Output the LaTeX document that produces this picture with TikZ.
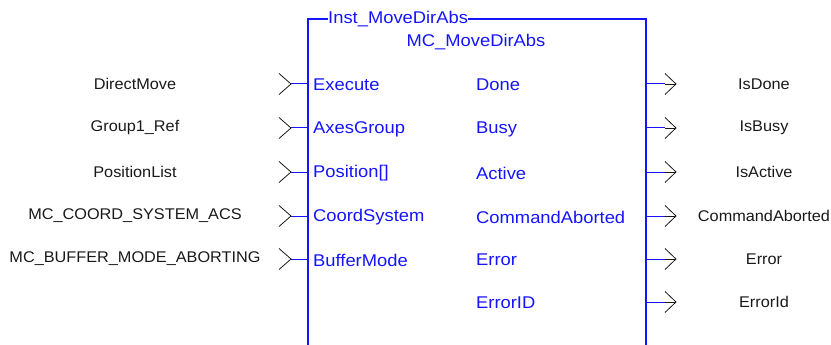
\documentclass[tikz,border=0pt]{standalone}
\usepackage{fontspec}
\setmainfont{Liberation Sans}
\newfontfamily\pinfont[FakeStretch=1.08]{Liberation Sans}
\newfontfamily\varfont[FakeStretch=1.05]{Liberation Sans}
\definecolor{pinblue}{RGB}{20,20,255}
\definecolor{txtblack}{RGB}{25,25,25}
\begin{document}
\begin{tikzpicture}[x=1pt,y=-1pt,
  blk/.style={draw=pinblue,line width=1.1pt},
  wire/.style={draw=pinblue,line width=1pt},
  chev/.style={draw=txtblack,line width=0.8pt},
  pinlab/.style={text=pinblue,font=\pinfont\fontsize{17}{19}\selectfont,inner sep=0pt},
  varlab/.style={text=txtblack,font=\varfont\fontsize{15.5}{18}\selectfont,inner sep=0pt}]
\useasboundingbox (0,0) rectangle (831,345);
% block
\node[pinlab,anchor=west] (inst) at (328,19) {Inst\_MoveDirAbs};
\node[pinlab] (type) at (476,42) {MC\_MoveDirAbs};
\coordinate (bl) at (308,345);
\coordinate (tl) at (308,19);
\coordinate (tr) at (646,19);
\coordinate (br) at (646,345);
\draw[blk] (bl) -- (tl) -- (inst.west);
\draw[blk] (inst.east) -- (tr) -- (br);
% inputs
\foreach \y/\lab/\pin/\nm in {84/DirectMove/Execute/a,128/Group1\_Ref/AxesGroup/b,172/PositionList/Position[]/c,216/MC\_COORD\_SYSTEM\_ACS/CoordSystem/d,259/MC\_BUFFER\_MODE\_ABORTING/BufferMode/e}{
  \node[varlab] (in\nm) at (135,\y) {\lab};
  \node[pinlab,anchor=west] (pin\nm) at (313,\y+1) {\pin};
  \coordinate (ct\nm) at (279,\y-10.5);
  \coordinate (cb\nm) at (279,\y+10.5);
  \coordinate (ca\nm) at (291,\y);
  \coordinate (ce\nm) at (308,\y);
  \draw[chev] (ct\nm) -- (ca\nm) -- (cb\nm);
  \draw[wire] (ca\nm) -- (ce\nm);
}
% outputs
\foreach \y/\lab/\pin/\nm in {84/IsDone/Done/a,128/IsBusy/Busy/b,172/IsActive/Active/c,216/CommandAborted/CommandAborted/d,259/Error/Error/e,302/ErrorId/ErrorID/f}{
  \node[varlab] (out\nm) at (764,\y) {\lab};
  \node[pinlab,anchor=west] (opin\nm) at (476,\y+1) {\pin};
  \coordinate (os\nm) at (646,\y);
  \coordinate (oa\nm) at (665,\y);
  \coordinate (ot\nm) at (665,\y-10.5);
  \coordinate (ob\nm) at (665,\y+10.5);
  \coordinate (ox\nm) at (676,\y);
  \draw[wire] (os\nm) -- (oa\nm);
  \draw[chev] (oa\nm) -- (ox\nm);
  \draw[chev] (ot\nm) -- (ox\nm) -- (ob\nm);
}
\end{tikzpicture}
\end{document}
